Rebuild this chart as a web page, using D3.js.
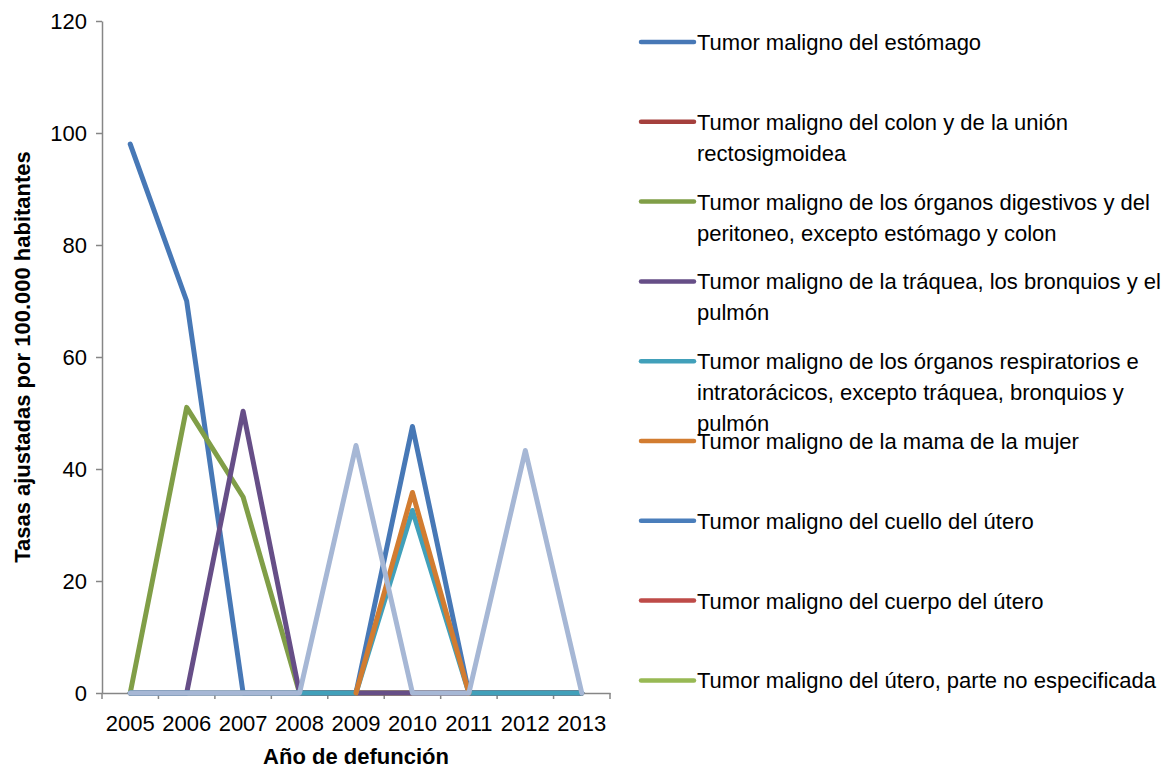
<!DOCTYPE html>
<html>
<head>
<meta charset="utf-8">
<script src="https://cdn.jsdelivr.net/npm/d3@7"></script>
<style>
  body { margin: 0; background: #fff; }
  svg text { font-family: "Liberation Sans", Arial, sans-serif; fill: #000; }
</style>
</head>
<body>
<svg id="chart" width="1165" height="766"></svg>
<script>
const years = ['2005', '2006', '2007', '2008', '2009', '2010', '2011', '2012', '2013'];
const yTicks = [0, 20, 40, 60, 80, 100, 120];

// one array per cause, null = no value for that year
const estomago      = [98, 70, 0, 0, 0, 47.6, 0, 0, 0];
const colon         = [0, 0, 0, 0, 0, 0, 0, 0, 0];
const digestivos    = [0, 51, 35, 0, 0, 0, 0, 0, 0];
const traquea       = [0, 0, 50.3, 0, 0, 0, 0, 0, 0];
const respiratorios = [0, 0, 0, 0, 0, 32.6, 0, 0, 0];
const mama          = [null, null, null, null, 0, 35.8, 0, null, null];
const cuello        = [null, null, null, null, null, null, null, null, null];
const cuerpo        = [null, null, null, null, null, null, null, null, null];
const utero         = [null, null, null, null, null, null, null, null, null];
const prostata      = [0, 0, 0, 0, 44.2, 0, 0, 43.3, 0];

const series = [
  { name: 'Tumor maligno del estómago', lines: ['Tumor maligno del estómago'], values: estomago, color: '#4778b6' },
  { name: 'Tumor maligno del colon y de la unión rectosigmoidea', lines: ['Tumor maligno del colon y de la unión', 'rectosigmoidea'], values: colon, color: '#a5403d' },
  { name: 'Tumor maligno de los órganos digestivos y del peritoneo, excepto estómago y colon', lines: ['Tumor maligno de los órganos digestivos y del', 'peritoneo, excepto estómago y colon'], values: digestivos, color: '#809e47' },
  { name: 'Tumor maligno de la tráquea, los bronquios y el pulmón', lines: ['Tumor maligno de la tráquea, los bronquios y el', 'pulmón'], values: traquea, color: '#664e87' },
  { name: 'Tumor maligno de los órganos respiratorios e intratorácicos, excepto tráquea, bronquios y pulmón', lines: ['Tumor maligno de los órganos respiratorios e', 'intratorácicos, excepto tráquea, bronquios y', 'pulmón'], values: respiratorios, color: '#41a0ba' },
  { name: 'Tumor maligno de la mama de la mujer', lines: ['Tumor maligno de la mama de la mujer'], values: mama, color: '#d27c30' },
  { name: 'Tumor maligno del cuello del útero', lines: ['Tumor maligno del cuello del útero'], values: cuello, color: '#4a7ebb' },
  { name: 'Tumor maligno del cuerpo del útero', lines: ['Tumor maligno del cuerpo del útero'], values: cuerpo, color: '#be4b48' },
  { name: 'Tumor maligno del útero, parte no especificada', lines: ['Tumor maligno del útero, parte no especificada'], values: utero, color: '#98b954' },
  { name: 'Tumor maligno de la próstata', lines: ['Tumor maligno de la próstata'], values: prostata, color: '#a6b7d5' }
];

const svg = d3.select('#chart');
const margin = { left: 102, top: 21, right: 610, bottom: 693 };

const x = d3.scaleBand().domain(years).range([margin.left, margin.right]);
const y = d3.scaleLinear().domain([0, 120]).range([margin.bottom, margin.top]);
const axisColor = '#868686';

// y axis
const yAxis = svg.append('g')
  .attr('transform', 'translate(' + margin.left + ',0)')
  .call(d3.axisLeft(y).tickValues(yTicks).tickSize(6).tickSizeOuter(0).tickPadding(9));
yAxis.select('.domain').attr('stroke', axisColor).attr('stroke-width', 1.5);
yAxis.selectAll('.tick line').attr('stroke', axisColor).attr('stroke-width', 1.5);
yAxis.selectAll('.tick text').style('font-size', '22px').attr('dy', '0.36em');

// x axis, tick marks at band edges
const xAxis = svg.append('g')
  .attr('transform', 'translate(0,' + margin.bottom + ')')
  .call(d3.axisBottom(x).tickSize(0).tickSizeOuter(0).tickPadding(22));
xAxis.select('.domain').attr('stroke', axisColor).attr('stroke-width', 1.5);
xAxis.selectAll('.tick text').style('font-size', '22px');
xAxis.selectAll('.edge')
  .data(years.concat(['end']))
  .enter().append('line')
  .attr('class', 'edge')
  .attr('x1', (d, i) => i < years.length ? x(d) : margin.right)
  .attr('x2', (d, i) => i < years.length ? x(d) : margin.right)
  .attr('y1', 0).attr('y2', 6)
  .attr('stroke', axisColor).attr('stroke-width', 1.5);

// axis titles
svg.append('text')
  .attr('x', (margin.left + margin.right) / 2)
  .attr('y', 764)
  .attr('text-anchor', 'middle')
  .style('font-size', '22px').style('font-weight', 'bold')
  .text('Año de defunción');

svg.append('text')
  .attr('transform', 'translate(30,' + ((margin.top + margin.bottom) / 2) + ') rotate(-90)')
  .attr('text-anchor', 'middle')
  .style('font-size', '22px').style('font-weight', 'bold')
  .text('Tasas ajustadas por 100.000 habitantes');

// lines
const line = d3.line()
  .defined(d => d != null)
  .x((d, i) => x(years[i]) + x.bandwidth() / 2)
  .y(d => y(d));

svg.append('g').selectAll('path')
  .data(series)
  .enter().append('path')
  .attr('d', d => line(d.values))
  .attr('fill', 'none')
  .attr('stroke', d => d.color)
  .attr('stroke-width', 5)
  .attr('stroke-linejoin', 'round')
  .attr('stroke-linecap', 'round');

// legend: only the first nine entries fit in the frame, as in the original
const legend = svg.append('g').selectAll('g')
  .data(series.slice(0, 9))
  .enter().append('g')
  .attr('transform', (d, i) => 'translate(641,' + (42 + i * 79.8) + ')');

legend.append('line')
  .attr('x1', 0).attr('x2', 53)
  .attr('stroke', d => d.color)
  .attr('stroke-width', 4.5)
  .attr('stroke-linecap', 'round');

legend.append('text')
  .attr('x', 56)
  .style('font-size', '22px')
  .selectAll('tspan')
  .data(d => d.lines)
  .enter().append('tspan')
  .attr('x', 56)
  .attr('dy', (d, i) => i === 0 ? '0.36em' : 31)
  .text(d => d);
</script>
</body>
</html>
